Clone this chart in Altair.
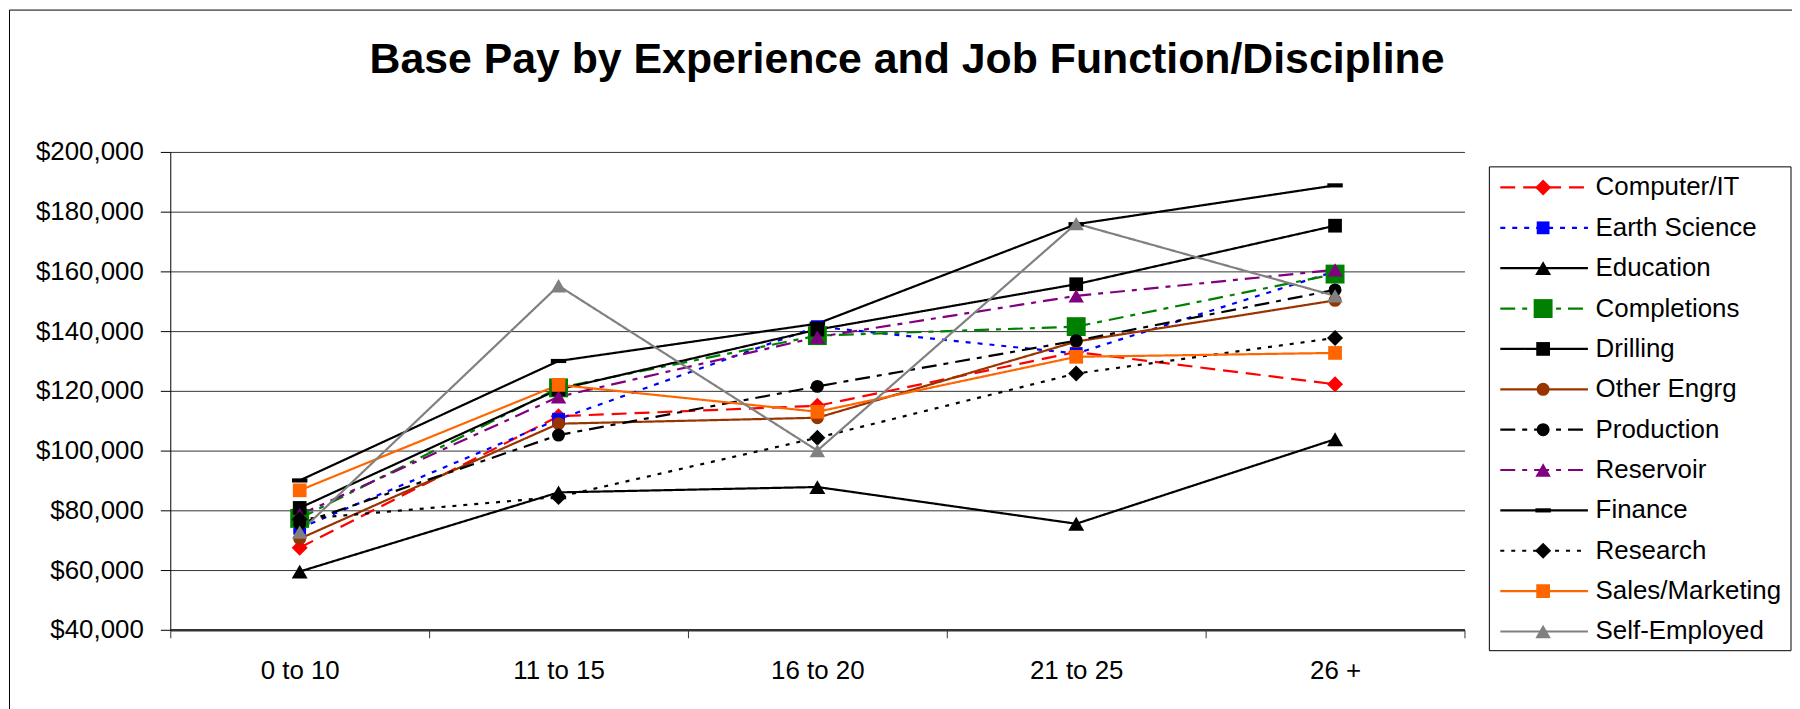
import altair as alt
import pandas as pd

# ---------------- data ----------------
title_text = "Base Pay by Experience and Job Function/Discipline"
categories = ["0 to 10", "11 to 15", "16 to 20", "21 to 25", "26 +"]
series = ["Computer/IT", "Earth Science", "Education", "Completions", "Drilling",
          "Other Engrg", "Production", "Reservoir", "Finance", "Research",
          "Sales/Marketing", "Self-Employed"]

computer_it     = [67500, 111500, 115000, 133000, 122200]
earth_science   = [74000, 110500, 141500, 132500, 160000]
education       = [59500, 86000, 87800, 75500, 103800]
completions     = [77300, 121000, 138500, 141500, 159100]
drilling        = [80800, 120500, 140500, 155700, 175300]
other_engrg     = [70500, 109000, 111000, 136500, 150300]
production      = [75500, 105200, 121500, 136800, 153800]
reservoir       = [78500, 118000, 138000, 151800, 160500]
finance         = [90000, 130000, 142500, 175800, 188800]
research        = [77000, 84500, 104300, 125800, 137700]
sales_marketing = [86700, 122000, 113000, 131400, 132700]
self_employed   = [72700, 155200, 100000, 176000, 151800]

y_ticks = [40000, 60000, 80000, 100000, 120000, 140000, 160000, 180000, 200000]

values = {
    "Computer/IT": computer_it, "Earth Science": earth_science,
    "Education": education, "Completions": completions, "Drilling": drilling,
    "Other Engrg": other_engrg, "Production": production,
    "Reservoir": reservoir, "Finance": finance, "Research": research,
    "Sales/Marketing": sales_marketing, "Self-Employed": self_employed,
}

# ---------------- styles ----------------
FIN_PATH = "M-1,-0.27L1,-0.27L1,0.27L-1,0.27Z"
SOLID = [1, 0]
DASHDOT = [15, 7, 5, 7]
STYLE = {
    "Computer/IT":     dict(color="#FF0000", dash=[15, 8], shape="diamond", size=260),
    "Earth Science":   dict(color="#0000FF", dash=[5, 7], shape="square", size=165),
    "Education":       dict(color="#000000", dash=SOLID, shape="triangle-up", size=256),
    "Completions":     dict(color="#008000", dash=DASHDOT, shape="square", size=361),
    "Drilling":        dict(color="#000000", dash=SOLID, shape="square", size=190),
    "Other Engrg":     dict(color="#993300", dash=SOLID, shape="circle", size=170),
    "Production":      dict(color="#000000", dash=DASHDOT, shape="circle", size=170),
    "Reservoir":       dict(color="#800080", dash=DASHDOT, shape="triangle-up", size=240),
    "Finance":         dict(color="#000000", dash=SOLID, shape=FIN_PATH, size=240),
    "Research":        dict(color="#000000", dash=[4, 7], shape="diamond", size=260),
    "Sales/Marketing": dict(color="#FF6600", dash=SOLID, shape="square", size=190),
    "Self-Employed":   dict(color="#808080", dash=SOLID, shape="triangle-up", size=240),
}
FONT = "Liberation Sans"
LABEL_SIZE = 26
LINE_W = 2.2

# ---------------- tables ----------------
rows = []
for i, s in enumerate(series):
    for c, v in zip(categories, values[s]):
        rows.append({"series": s, "cat": c, "pay": v, "idx": i, "msize": STYLE[s]["size"]})
df = pd.DataFrame(rows)
leg_df = pd.DataFrame({"series": series, "idx": list(range(len(series))),
                       "msize": [STYLE[s]["size"] for s in series]})
one = pd.DataFrame({"a": [0]})

color = alt.Color("series:N", scale=alt.Scale(domain=series, range=[STYLE[s]["color"] for s in series]), legend=None)
dash = alt.StrokeDash("series:N", scale=alt.Scale(domain=series, range=[STYLE[s]["dash"] for s in series]), legend=None)
shape = alt.Shape("series:N", scale=alt.Scale(domain=series, range=[STYLE[s]["shape"] for s in series]), legend=None)
size = alt.Size("msize:Q", scale=None, legend=None)

x = alt.X("cat:N", sort=categories,
          scale=alt.Scale(type="band", domain=categories, paddingInner=0, paddingOuter=0),
          axis=alt.Axis(title=None, labelAngle=0, tickBand="extent", tickSize=8,
                        tickColor="#333333", domainColor="#333333", domainWidth=2.5,
                        labelPadding=20, labelFont=FONT, labelFontSize=LABEL_SIZE,
                        labelColor="black", grid=False))
y = alt.Y("pay:Q", scale=alt.Scale(domain=[40000, 200000], nice=False, zero=False),
          axis=alt.Axis(values=y_ticks, format="$,.0f", title=None, tickSize=10,
                        tickColor="black", domainColor="black", domainWidth=1,
                        labelPadding=17, labelFont=FONT, labelFontSize=LABEL_SIZE,
                        labelColor="black", grid=True, gridColor="#333333", gridWidth=1))

lines = alt.Chart(df).mark_line(strokeWidth=LINE_W).encode(x=x, y=y, color=color, strokeDash=dash)
points = alt.Chart(df).mark_point(filled=True, opacity=1, strokeWidth=0).encode(
    x=x, y=y, color=color, shape=shape, size=size, order=alt.Order("idx:Q"))
main = alt.layer(lines, points)

# ---------------- legend ----------------
ly = alt.Y("series:N", sort=series,
           scale=alt.Scale(type="point", domain=series, range=[35.7, 481.7], padding=0),
           axis=None)
box = alt.Chart(one).mark_rect(fill="white", stroke="black", strokeWidth=1).encode(
    x=alt.value(1325), x2=alt.value(1628), y=alt.value(15), y2=alt.value(501))
leg_lines = alt.Chart(leg_df).mark_rule(strokeWidth=LINE_W).encode(
    x=alt.value(1336), x2=alt.value(1424), y=ly, color=color, strokeDash=dash)
leg_points = alt.Chart(leg_df).mark_point(filled=True, opacity=1, strokeWidth=0).encode(
    x=alt.value(1379), y=ly, color=color, shape=shape, size=size)
leg_text = alt.Chart(leg_df).mark_text(align="left", baseline="middle", font=FONT,
                                       fontSize=LABEL_SIZE, color="black").encode(
    x=alt.value(1431.7), y=ly, text="series:N")
legend = alt.layer(box, leg_lines, leg_points, leg_text)

# ---------------- frame & title ----------------
frame_top = alt.Chart(one).mark_rule(color="black", strokeWidth=1).encode(
    x=alt.value(-161.5), x2=alt.value(1630), y=alt.value(-142.5))
frame_left = alt.Chart(one).mark_rule(color="black", strokeWidth=1).encode(
    x=alt.value(-161.5), y=alt.value(-142.5), y2=alt.value(560))
title = alt.Chart(one).mark_text(text=title_text, font=FONT, fontSize=43, fontWeight="bold",
                                 align="center", baseline="alphabetic", color="black").encode(
    x=alt.value(740), y=alt.value(-79))

chart = alt.layer(main, legend, frame_top, frame_left, title).resolve_scale(
    y="independent"
).properties(
    width=1300, height=480,
    padding={"left": 163, "top": 143, "right": 329, "bottom": 78},
    autosize=alt.AutoSizeParams(type="none"),
    background="white",
).configure_view(strokeWidth=0)

chart.save("out.html", embed_options={"renderer": "svg", "actions": False})
